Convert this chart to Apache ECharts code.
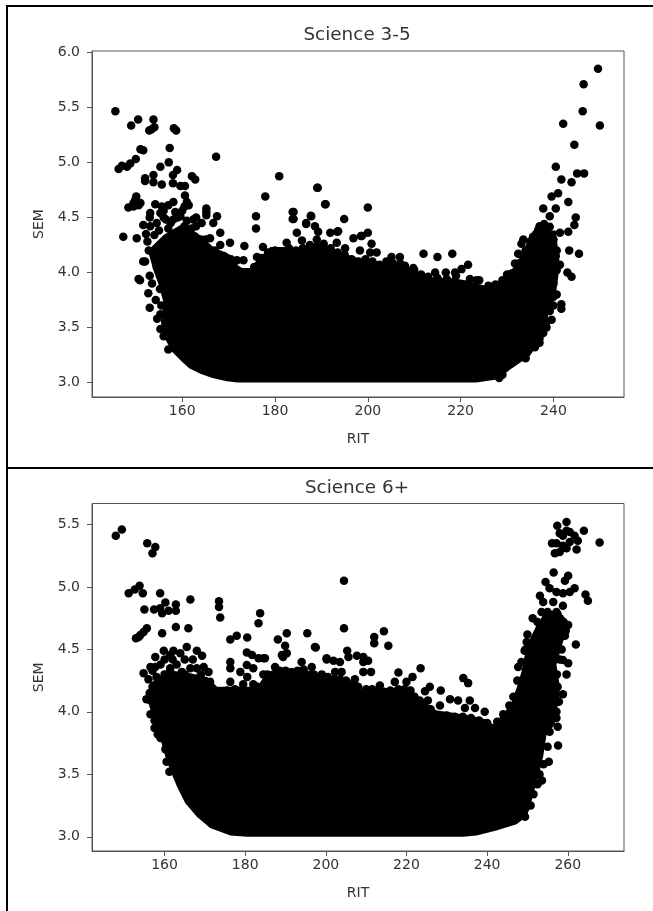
<!DOCTYPE html>
<html><head><meta charset="utf-8">
<style>html,body{margin:0;padding:0;background:#fff}#c{width:653px;height:911px}</style>
<script src="https://cdn.jsdelivr.net/npm/echarts@6/dist/echarts.min.js"></script>
</head><body><div id="c"></div>
<script>
const titles = ["Science 3-5", "Science 6+"];
const xTicks35 = [160, 180, 200, 220, 240];
const yTicks35 = [3.0, 3.5, 4.0, 4.5, 5.0, 5.5, 6.0];
const xTicks6 = [160, 180, 200, 220, 240, 260];
const yTicks6 = [3.0, 3.5, 4.0, 4.5, 5.0, 5.5];

// Outline of the solid, saturated region of overlapping students
const dense35 = [[172,3.0],[169.6,3.01],[166.5,3.04],[163.9,3.08],[161.5,3.13],[159.9,3.19],[157.8,3.28],[156,3.42],[155.4,3.55],[156,3.72],[155,3.88],[153.8,4.02],[152.6,4.2],[155,4.3],[156,4.34],[159.6,4.43],[163.2,4.36],[166.7,4.23],[170.3,4.16],[172.5,4.04],[174.6,4.04],[176.1,4.11],[179,4.23],[182,4.23],[186,4.23],[189.7,4.27],[193.4,4.20],[196.9,4.14],[200.5,4.11],[203.3,4.09],[206.3,4.09],[209,4.05],[212,3.97],[215,3.95],[218,3.95],[221,3.93],[223.4,3.90],[226.3,3.87],[229,3.95],[231.5,4.05],[233.5,4.2],[235.6,4.38],[240.5,4.38],[241.3,4.1],[241,3.95],[240.5,3.8],[239,3.63],[237.8,3.42],[234.9,3.24],[230.6,3.115],[228.1,3.03],[223.4,3.0]];

const points35 = [[145.6,5.465],[149.0,5.335],[150.5,5.39],[153.8,5.39],[152.9,5.29],[154.0,5.32],[153.4,5.3],[158.2,5.31],[158.7,5.29],[151.6,5.11],[151,5.12],[157.3,5.13],[150.0,5.03],[148.8,4.99],[148.1,4.96],[147,4.97],[146.3,4.94],[155.3,4.96],[157.1,5.0],[167.3,5.05],[180.9,4.875],[177.9,4.69],[189.2,4.77],[190.9,4.62],[175.9,4.51],[175.9,4.40],[184,4.55],[184,4.485],[187.8,4.51],[186.7,4.44],[152,4.855],[152,4.83],[153.8,4.885],[153.8,4.82],[155.6,4.80],[158.9,4.93],[158,4.885],[158,4.81],[162.1,4.875],[162.8,4.845],[159.6,4.785],[160.6,4.785],[160.6,4.70],[150.1,4.69],[148.4,4.59],[149.5,4.63],[151,4.63],[149.9,4.66],[150.6,4.61],[149.5,4.60],[154.2,4.62],[155.6,4.60],[157,4.61],[158.1,4.64],[161,4.64],[161.4,4.61],[165.2,4.58],[165.2,4.55],[165.2,4.52],[167.5,4.51],[153.1,4.54],[155.3,4.54],[158.1,4.48],[159.6,4.51],[162.4,4.48],[164.2,4.45],[166.7,4.45],[168.2,4.36],[151.6,4.43],[150.2,4.31],[153.1,4.42],[170.3,4.27],[173.4,4.24],[166,4.31],[168.2,4.25],[171.8,4.11],[173.2,4.11],[177.4,4.23],[176.1,4.14],[151.6,4.10],[147.3,4.325],[152,4.10],[150.6,3.94],[150.9,3.93],[152.7,3.81],[153,3.68],[154.6,3.58],[155.3,3.485],[153,3.97],[153.5,3.9],[154.3,3.75],[152.8,4.2],[152.2,4.35],[154.5,4.45],[156.5,4.48],[160,4.56],[163,4.42],[157,4.4],[160.5,4.42],[183.8,4.55],[183.8,4.485],[187.7,4.515],[186.7,4.45],[188.6,4.42],[189.3,4.37],[193.6,4.375],[191.9,4.36],[200,4.59],[194.9,4.485],[200,4.36],[198.5,4.33],[196.9,4.31],[200.8,4.26],[184.7,4.36],[185.8,4.29],[182.5,4.27],[189,4.30],[193.3,4.27],[195.1,4.22],[198.3,4.20],[200.5,4.18],[201.9,4.18],[205.1,4.14],[206.9,4.14],[189.1,4.77],[190.8,4.62],[193.4,4.37],[198.7,4.33],[212,4.17],[215,4.14],[218.2,4.17],[214.5,4.0],[216.8,4.0],[218.8,4.0],[220.2,4.03],[221.6,4.07],[223.4,3.93],[209.8,4.04],[207,4.08],[212,3.95],[249.6,5.85],[246.5,5.71],[246.3,5.465],[242.1,5.35],[250,5.335],[244.5,5.16],[240.5,4.96],[241.7,4.845],[243.9,4.82],[245.1,4.90],[246.6,4.90],[239.6,4.69],[241,4.72],[243.2,4.64],[237.8,4.58],[240.5,4.58],[239.2,4.51],[244.8,4.50],[244.5,4.43],[243.2,4.37],[241.4,4.36],[236.7,4.385],[238.5,4.385],[237.4,4.355],[235.6,4.325],[239.2,4.415],[233.5,4.30],[233.1,4.26],[232.4,4.17],[231.7,4.08],[235.7,4.25],[241.4,4.07],[240.7,4.20],[243.4,4.20],[245.5,4.17],[243,4.0],[243.9,3.96],[241.7,3.71],[241.7,3.67],[239.6,3.57],[238.5,3.50],[240.7,3.80],[237,4.42],[240,4.3],[238,4.44],[240,3.9],[240,3.7],[237,3.4],[236,3.32],[234,3.22],[229,3.07],[228.3,3.04]];

// Points that make the bumpy upper and side edges of the solid region
const edge35 = [[170.5,4.12],[172,4.02],[174,4.0],[175.5,4.05],[177,4.13],[178.5,4.18],[180,4.2],[181.5,4.18],[183,4.22],[184.5,4.2],[186,4.22],[187.5,4.25],[189,4.24],[190.5,4.26],[192,4.22],[193.5,4.18],[195,4.16],[196.5,4.12],[198,4.1],[199.5,4.12],[201,4.1],[202.5,4.07],[204,4.1],[205.5,4.08],[208,4.06],[210,4.02],[211.5,3.98],[213,3.96],[215,3.95],[217,3.94],[219,3.97],[222,3.94],[224,3.93],[226,3.88],[227.5,3.89],[229,3.93],[230,3.98],[231,3.99],[232.5,4.08],[234,4.2],[235,4.28],[236.5,4.35],[152.5,4.28],[154,4.34],[155,4.38],[157.5,4.45],[159,4.5],[161,4.47],[162,4.4],[164,4.3],[165,4.3],[167,4.2],[169,4.15],[153,4.5],[156,4.5],[158.5,4.55],[160.5,4.6],[163,4.5],[156,4.56],[154,4.15],[154.5,4.05],[155.2,3.85],[155.5,3.7],[155.3,3.62],[156,3.42],[157,3.3],[240.5,4.15],[240.7,4.02],[240,3.78],[239.2,3.65],[238.5,3.55],[237.8,3.45],[237,3.36]];

const dense6 = [[180.4,3.0],[176.3,3.01],[171.3,3.07],[168,3.16],[165.1,3.27],[163.1,3.40],[161.4,3.53],[160.2,3.64],[158.9,3.79],[157.3,3.93],[155.8,4.09],[156.5,4.23],[159,4.29],[162,4.33],[166.4,4.31],[170.6,4.28],[173,4.2],[176.3,4.2],[181.2,4.2],[183,4.2],[185.4,4.32],[189.4,4.33],[195.3,4.33],[196,4.33],[198.5,4.3],[200.9,4.28],[204.3,4.25],[206.7,4.23],[209.2,4.17],[212.7,4.2],[215.2,4.17],[217.6,4.2],[220.9,4.2],[222.6,4.12],[227.5,4.01],[232,3.99],[237,3.96],[239.5,3.94],[241.5,3.9],[244.4,4.0],[246.1,4.08],[247.3,4.19],[248.5,4.32],[249.8,4.53],[252.2,4.69],[253.9,4.775],[258.8,4.775],[260.5,4.69],[258.8,4.56],[257.2,4.375],[258,4.21],[258,4.11],[257.2,4.0],[256.8,3.9],[254.7,3.81],[253.9,3.64],[252.5,3.45],[251.7,3.37],[250.5,3.22],[249.7,3.16],[247.3,3.1],[242.3,3.05],[237.4,3.01],[234,3.0]];

const points6 = [[147.9,5.41],[149.4,5.46],[155.7,5.35],[157.7,5.32],[157,5.27],[151.1,4.95],[152.6,4.98],[153.8,5.01],[154.6,4.95],[158.9,4.95],[155,4.82],[157.4,4.82],[158.9,4.83],[160.2,4.875],[159.4,4.79],[161,4.81],[162.8,4.86],[162.8,4.81],[166.4,4.90],[173.5,4.885],[173.5,4.84],[173.8,4.755],[183.7,4.79],[183.3,4.71],[152.9,4.59],[154,4.615],[155.6,4.67],[154.8,4.64],[153.6,4.60],[159.4,4.63],[162.8,4.68],[165.9,4.67],[176.3,4.58],[177.9,4.61],[180.5,4.595],[188.1,4.58],[190.3,4.63],[195.4,4.63],[197.5,4.515],[189.9,4.53],[190.3,4.47],[189.1,4.455],[180.4,4.475],[181.7,4.455],[200.2,4.42],[184.9,4.43],[183.3,4.43],[176.3,4.40],[176.3,4.35],[180.4,4.375],[182,4.35],[194,4.40],[196.5,4.36],[157.7,4.44],[159.8,4.49],[162.2,4.49],[165.5,4.52],[168,4.49],[169.3,4.45],[161.4,4.455],[163.9,4.47],[154.8,4.31],[156.5,4.36],[157.7,4.36],[161.4,4.35],[161.4,4.32],[169.7,4.36],[170.9,4.32],[171.3,4.24],[164.3,4.32],[166.4,4.35],[176.3,4.24],[178.8,4.32],[184.5,4.43],[187.4,4.36],[189.4,4.44],[157,4.2],[156,4.26],[204.5,5.05],[204.5,4.67],[214.4,4.645],[212,4.60],[212,4.55],[215.5,4.53],[197.3,4.52],[205.3,4.49],[205.6,4.44],[200.2,4.43],[201.9,4.41],[203.5,4.40],[207.7,4.45],[209.3,4.44],[210.5,4.41],[209.3,4.40],[218,4.315],[223.5,4.35],[202.3,4.32],[203.9,4.32],[209.3,4.32],[211.2,4.32],[207.2,4.26],[217.1,4.24],[221.5,4.28],[225.8,4.20],[224.6,4.165],[228.5,4.17],[234.1,4.27],[235.3,4.23],[230.8,4.10],[232.8,4.09],[235.7,4.09],[228.3,4.05],[234.5,4.03],[237,4.03],[213.4,4.21],[220,4.24],[223.3,4.09],[225.3,4.09],[239.4,4.0],[259.7,5.52],[257.4,5.49],[258.8,5.41],[260.5,5.44],[261.7,5.41],[262.5,5.37],[264,5.45],[256.1,5.35],[258,5.43],[259.7,5.45],[257.2,5.35],[258.8,5.33],[260.5,5.36],[262.2,5.30],[258,5.28],[256.8,5.27],[259.7,5.31],[267.9,5.355],[256.5,5.115],[260.1,5.09],[259.3,5.05],[254.5,5.04],[255.5,4.99],[253.1,4.93],[253.9,4.88],[261.7,4.99],[260.5,4.96],[258.8,4.95],[257.2,4.96],[264.4,4.94],[265,4.89],[256.4,4.88],[258.8,4.85],[257.2,4.80],[254.7,4.775],[256.3,4.775],[253.1,4.67],[260.1,4.695],[259.3,4.61],[262,4.54],[249.8,4.56],[249.3,4.49],[247.7,4.36],[258.8,4.415],[260.1,4.39],[259.7,4.30],[258.8,4.14],[257.2,4.0],[257.2,3.95],[257.5,3.88],[255.5,3.84],[257.6,3.73],[255.3,3.6],[253.6,3.45],[249.4,3.16],[156.5,4.09],[157.5,3.93],[159,3.79],[160.2,3.7]];

const edge6 = [[157,4.33],[159,4.38],[160,4.42],[162,4.42],[163,4.38],[165,4.42],[167,4.42],[168,4.35],[169,4.3],[158,4.28],[160,4.3],[165,4.3],[171.5,4.2],[172.5,4.17],[155.5,4.1],[156.3,4.15],[156.5,3.98],[157.5,3.87],[158.3,3.82],[160.5,3.6],[161.2,3.52],[174,4.16],[175.5,4.17],[177.5,4.18],[179.5,4.22],[180.5,4.28],[182,4.22],[183,4.2],[184.5,4.3],[185.5,4.3],[187,4.3],[188.5,4.33],[190,4.33],[191.5,4.32],[193,4.33],[194.5,4.34],[197,4.3],[199,4.3],[200.5,4.28],[202,4.26],[203.5,4.26],[205,4.25],[206.5,4.22],[208,4.2],[210,4.18],[211.5,4.18],[213,4.17],[214.5,4.16],[216,4.17],[218,4.18],[219.5,4.18],[221,4.17],[222,4.12],[224,4.03],[226,4.02],[228,3.97],[230,3.97],[232,3.96],[234,3.96],[236,3.95],[238,3.93],[240,3.91],[242.5,3.92],[244,3.98],[245.5,4.05],[246.5,4.12],[247.5,4.25],[248.5,4.4],[249.5,4.5],[250,4.62],[251.3,4.75],[252.5,4.72],[253.5,4.8],[255,4.8],[256,4.76],[257.5,4.78],[259,4.72],[259.5,4.65],[258.5,4.5],[258,4.42],[257.3,4.3],[257.5,4.2],[257.8,4.08],[255,3.72],[254,3.58],[253,3.5],[252.5,3.42],[251.5,3.34],[250.8,3.25]];

const INK = "#000";
const TEXT = "#333";
const AXIS = "#555";

function axisX(idx, min, max, ticks){
  return {gridIndex:idx,type:"value",min,max,name:"RIT",nameLocation:"middle",nameGap:35,
    nameTextStyle:{fontFamily:"DejaVu Sans",fontSize:14,color:TEXT},
    splitLine:{show:false},
    axisLine:{show:true,onZero:false,lineStyle:{color:AXIS,width:1}},
    axisTick:{show:true,length:5,lineStyle:{color:AXIS,width:1},customValues:ticks},
    axisLabel:{fontFamily:"DejaVu Sans",fontSize:14,color:TEXT,margin:7.5,customValues:ticks,formatter:v=>String(v)}};
}
function axisY(idx, min, max, ticks){
  return {gridIndex:idx,type:"value",min,max,name:"SEM",nameLocation:"middle",nameGap:46,
    nameTextStyle:{fontFamily:"DejaVu Sans",fontSize:14,color:TEXT},
    splitLine:{show:false},
    axisLine:{show:true,onZero:false,lineStyle:{color:AXIS,width:1}},
    axisTick:{show:true,length:5,lineStyle:{color:AXIS,width:1},customValues:ticks},
    axisLabel:{fontFamily:"DejaVu Sans",fontSize:14,color:TEXT,margin:12,customValues:ticks,formatter:v=>Number(v).toFixed(1)}};
}
function denseSeries(idx, outline){
  return {type:"custom",xAxisIndex:idx,yAxisIndex:idx,data:outline,silent:true,z:2,
    encode:{x:0,y:1},
    renderItem(p,api){
      if(p.dataIndex!==0) return null;
      return {type:"polygon",shape:{points:outline.map(o=>api.coord(o))},style:{fill:INK}};
    }};
}
function pointSeries(idx, pts){
  return {type:"scatter",xAxisIndex:idx,yAxisIndex:idx,data:pts,symbol:"circle",symbolSize:8.5,
    itemStyle:{color:INK,opacity:1},z:3,silent:true,large:false};
}
function frameLine(x,y,w,h){
  return {type:"rect",shape:{x,y,width:w,height:h},style:{fill:"#000"},silent:true};
}

const option = {
  animation:false,
  backgroundColor:"#fff",
  title:[
    {text:titles[0],left:357,top:26,padding:0,textAlign:"center",textStyle:{fontFamily:"DejaVu Sans",fontSize:18.4,fontWeight:"normal",color:TEXT}},
    {text:titles[1],left:357,top:479,padding:0,textAlign:"center",textStyle:{fontFamily:"DejaVu Sans",fontSize:18.4,fontWeight:"normal",color:TEXT}}
  ],
  grid:[
    {left:92,top:51,width:532,height:346,show:true,borderColor:AXIS,borderWidth:1,backgroundColor:"transparent"},
    {left:92,top:503.5,width:532,height:347.5,show:true,borderColor:AXIS,borderWidth:1,backgroundColor:"transparent"}
  ],
  xAxis:[axisX(0,140.56,255.2,xTicks35),axisX(1,142.0,273.95,xTicks6)],
  yAxis:[axisY(0,2.868,6.012,yTicks35),axisY(1,2.886,5.668,yTicks6)],
  series:[denseSeries(0,dense35),pointSeries(0,points35.concat(edge35)),denseSeries(1,dense6),pointSeries(1,points6.concat(edge6))],
  graphic:[frameLine(6,5,647,2),frameLine(6,5,2,906),frameLine(6,467,647,2)]
};
const chart = echarts.init(document.getElementById("c"),null,{renderer:"canvas",width:653,height:911});
chart.setOption(option);
</script></body></html>
